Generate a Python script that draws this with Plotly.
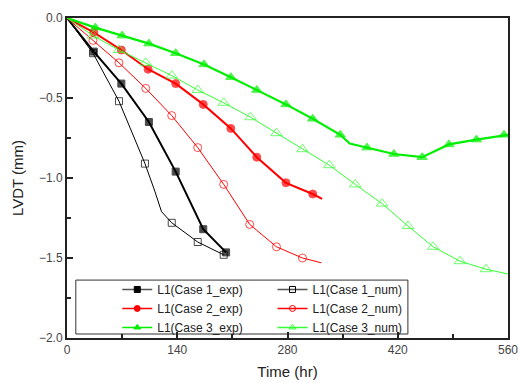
import plotly.graph_objects as go

# ---- data (Time in hr, LVDT in mm) ----
c1_exp_t = [0, 34, 69, 104, 138, 173, 202]
c1_exp_v = [0.0, -0.21, -0.41, -0.65, -0.96, -1.32, -1.465]
c1_num_t = [0, 33, 66, 99, 111, 120, 133, 166, 199]
c1_num_v = [0.0, -0.22, -0.52, -0.91, -1.075, -1.21, -1.28, -1.40, -1.48]

c2_exp_t = [0, 34, 69, 103, 138, 173, 208, 241, 278, 312, 324]
c2_exp_v = [0.0, -0.09, -0.20, -0.32, -0.41, -0.54, -0.69, -0.87, -1.03, -1.10, -1.13]
c2_num_t = [0, 33, 66, 100, 133, 166, 199, 232, 266, 299, 323]
c2_num_v = [0.0, -0.14, -0.28, -0.44, -0.61, -0.81, -1.04, -1.29, -1.43, -1.50, -1.53]

c3_exp_t = [0, 36, 70, 104, 138, 174, 208, 241, 278, 312, 347, 359, 381, 415, 451, 485, 520, 555, 560]
c3_exp_v = [0.0, -0.06, -0.11, -0.16, -0.22, -0.29, -0.37, -0.45, -0.54, -0.63, -0.73, -0.785,
            -0.81, -0.85, -0.87, -0.79, -0.76, -0.73, -0.73]
c3_num_t = [0, 33, 66, 100, 133, 166, 199, 233, 266, 299, 333, 366, 400, 433, 465, 499, 532, 560]
c3_num_v = [0.0, -0.11, -0.20, -0.28, -0.36, -0.45, -0.53, -0.62, -0.72, -0.82, -0.92, -1.04,
            -1.16, -1.30, -1.43, -1.52, -1.57, -1.60]

x_ticks = [0, 140, 280, 420, 560]
y_ticks = [0.0, -0.5, -1.0, -1.5, -2.0]

BLACK = "#000000"
RED = "#ff0000"
GREEN = "#00ee00"
GREEN_L = "#33ff33"


def sizes(ts, s, skip=()):
    out = []
    for i, t in enumerate(ts):
        if i == 0 or t in skip:
            out.append(0)
        else:
            out.append(s)
    return out


fig = go.Figure()

series = [
    ("L1(Case 1_exp)", c1_exp_t, c1_exp_v, BLACK, 2, "square", 7, (), "legend"),
    ("L1(Case 2_exp)", c2_exp_t, c2_exp_v, RED, 2, "circle", 8, (324,), "legend"),
    ("L1(Case 3_exp)", c3_exp_t, c3_exp_v, GREEN, 2.2, "triangle-up", 9, (359, 560), "legend"),
    ("L1(Case 1_num)", c1_num_t, c1_num_v, BLACK, 1, "square-open", 7, (111, 120), "legend2"),
    ("L1(Case 2_num)", c2_num_t, c2_num_v, RED, 1, "circle-open", 8, (323,), "legend2"),
    ("L1(Case 3_num)", c3_num_t, c3_num_v, GREEN_L, 1, "triangle-up-open", 10, (560,), "legend2"),
]

for name, t, v, col, lw, sym, ms, skip, lg in series:
    fig.add_trace(go.Scatter(
        x=t, y=v, name=name, mode="lines+markers",
        line=dict(color=col, width=lw),
        marker=dict(symbol=sym, size=sizes(t, ms, skip), color=col,
                    line=dict(color=col, width=1)),
        showlegend=False,
    ))

# legend keys (same names/styles, smaller markers as in the reference legend)
for name, t, v, col, lw, sym, ms, skip, lg in series:
    fig.add_trace(go.Scatter(
        x=[None], y=[None], name=name, mode="lines+markers",
        line=dict(color="#555555" if col == BLACK else col, width=1.5),
        marker=dict(symbol=sym, size=6, color=col, line=dict(color=col, width=1)),
        legend=lg, showlegend=True,
    ))

axis_common = dict(
    showgrid=False, zeroline=False, showline=True, linecolor="#222222", linewidth=2,
    mirror=True, ticks="inside", ticklen=6, tickwidth=1.5, tickcolor="#222222",
    tickfont=dict(size=12, color="#444444"), ticklabeloverflow="allow",
    minor=dict(ticks="inside", ticklen=4, tickwidth=1.5, tickcolor="#222222"),
)

fig.update_xaxes(range=[0, 560], tickvals=x_ticks, ticktext=[str(v) for v in x_ticks],
                 minor_dtick=70,
                 title=dict(text="Time (hr)", font=dict(size=15, color="#222222"), standoff=10),
                 **axis_common)
fig.update_yaxes(range=[-2.0, 0.0], tickvals=y_ticks, tickformat=".1f",
                 minor_dtick=0.25,
                 title=dict(text="LVDT (mm)", font=dict(size=15, color="#222222"), standoff=12),
                 **axis_common)

leg_common = dict(font=dict(size=12, color="#222222"), bgcolor="rgba(0,0,0,0)",
                  borderwidth=0, tracegroupgap=0, yanchor="top", xanchor="left")
fig.update_layout(
    width=518, height=383,
    margin=dict(l=67, r=10, t=18, b=45, autoexpand=False),
    paper_bgcolor="white", plot_bgcolor="white",
    font=dict(family="Liberation Sans, Arial, sans-serif"),
    legend=dict(x=0.114, y=0.197, **leg_common),
    legend2=dict(x=0.466, y=0.197, **leg_common),
    shapes=[dict(type="rect", xref="paper", yref="paper",
                 x0=0.02, x1=0.773, y0=0.0125, y1=0.181,
                 line=dict(color="#333333", width=1), fillcolor="white", layer="below")],
)

fig.write_html("out.html")
